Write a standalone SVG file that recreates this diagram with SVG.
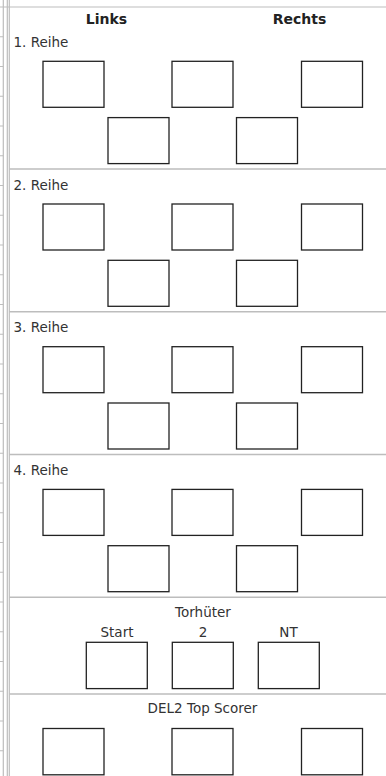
<svg xmlns="http://www.w3.org/2000/svg" width="386" height="776" viewBox="0 0 386 776">
<style>
.bg{fill:#ffffff}
.grid{stroke:#bdbdbd;stroke-width:1.2;fill:none}
.div{stroke:#bdbdbd;stroke-width:1.5;fill:none}
.box{fill:#ffffff;stroke:#222222;stroke-width:1.3}
.t{font-family:"DejaVu Sans",sans-serif;font-size:13.5px;fill:#333333}
.h{font-family:"DejaVu Sans",sans-serif;font-size:14px;font-weight:bold;fill:#222222;text-anchor:middle}
.c{text-anchor:middle}
</style>
<defs>
<g id="frame5">
<rect class="box" x="43" y="0" width="61" height="46"/>
<rect class="box" x="172" y="0" width="61" height="46"/>
<rect class="box" x="301.5" y="0" width="61" height="46"/>
<rect class="box" x="108" y="56.3" width="61" height="46"/>
<rect class="box" x="236.5" y="56.3" width="61" height="46"/>
</g>
</defs>
<rect class="bg" x="0" y="0" width="386" height="776"/>
<g id="left-strip">
<line class="grid" x1="3.3" y1="0" x2="3.3" y2="776"/>
<line class="grid" x1="7.3" y1="0" x2="7.3" y2="776"/>
<line class="grid" x1="9.3" y1="0" x2="9.3" y2="776"/>
<path class="grid" d="M0 7H3.3M0 36.75H3.3M0 66.5H3.3M0 96.25H3.3M0 126H3.3M0 155.75H3.3M0 185.5H3.3M0 215.25H3.3M0 245H3.3M0 274.75H3.3M0 304.5H3.3M0 334.25H3.3M0 364H3.3M0 393.75H3.3M0 423.5H3.3M0 453.25H3.3M0 483H3.3M0 512.75H3.3M0 542.5H3.3M0 572.25H3.3M0 602H3.3M0 631.75H3.3M0 661.5H3.3M0 691.25H3.3M0 721H3.3M0 750.75H3.3"/>
<line class="grid" x1="3.3" y1="7" x2="386" y2="7"/>
</g>
<g id="dividers">
<path class="div" d="M9.3 169H386M9.3 311.7H386M9.3 454.4H386M9.3 597.3H386M9.3 694H386"/>
</g>
<g id="header">
<text class="h" x="106.5" y="23.5">Links</text>
<text class="h" x="299.5" y="23.5">Rechts</text>
</g>
<g id="reihe1">
<text class="t" x="13.5" y="47">1. Reihe</text>
<use href="#frame5" y="61.3"/>
</g>
<g id="reihe2">
<text class="t" x="13.5" y="189.7">2. Reihe</text>
<use href="#frame5" y="204"/>
</g>
<g id="reihe3">
<text class="t" x="13.5" y="332.4">3. Reihe</text>
<use href="#frame5" y="346.7"/>
</g>
<g id="reihe4">
<text class="t" x="13.5" y="475.1">4. Reihe</text>
<use href="#frame5" y="489.4"/>
</g>
<g id="torhueter">
<text class="t c" x="203" y="617.3">Torhüter</text>
<text class="t c" x="117" y="637.3">Start</text>
<text class="t c" x="203" y="637.3">2</text>
<text class="t c" x="288.5" y="637.3">NT</text>
<rect class="box" x="86.3" y="642.3" width="61" height="46.3"/>
<rect class="box" x="172.3" y="642.3" width="61" height="46.3"/>
<rect class="box" x="258.3" y="642.3" width="61" height="46.3"/>
</g>
<g id="topscorer">
<text class="t c" x="202.5" y="713.3">DEL2 Top Scorer</text>
<rect class="box" x="43" y="728.5" width="61" height="46.3"/>
<rect class="box" x="172" y="728.5" width="61" height="46.3"/>
<rect class="box" x="301.5" y="728.5" width="61" height="46.3"/>
</g>
</svg>
